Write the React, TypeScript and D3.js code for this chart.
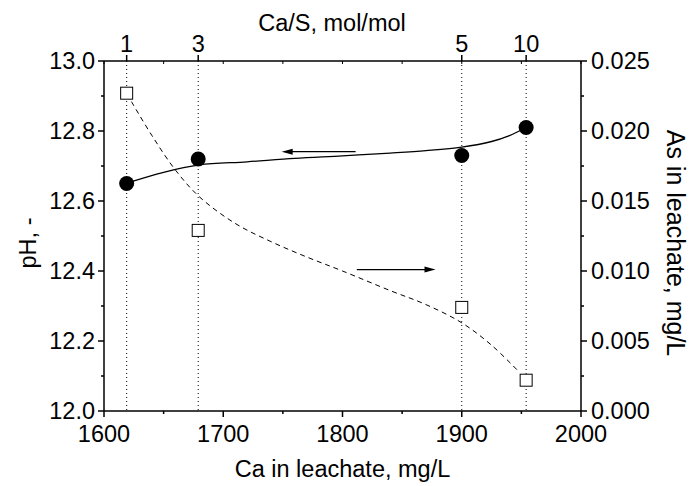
import React from "react";
import * as d3 from "d3";

const caLeachate = [1619, 1679, 1900, 1954];
const pHValues = [12.65, 12.72, 12.73, 12.81];
const asValues = [0.0227, 0.0129, 0.0074, 0.0022];
const caSLabels = ["1", "3", "5", "10"];

const pHFitX = [1619, 1650, 1680, 1720, 1760, 1800, 1840, 1870, 1900, 1925, 1940, 1954];
const pHFitY = [12.651, 12.682, 12.703, 12.712, 12.722, 12.729, 12.737, 12.744, 12.754, 12.77, 12.787, 12.81];

const asFitX = [1623, 1640, 1660, 1680, 1710, 1740, 1770, 1800, 1840, 1870, 1900, 1925, 1948];
const asFitY = [0.0221, 0.0197, 0.0172, 0.0153, 0.0134, 0.0121, 0.011, 0.01, 0.0086, 0.0076, 0.0063, 0.0047, 0.0028];

const xTicks = [1600, 1700, 1800, 1900, 2000];
const xMinorTicks = [1650, 1750, 1850, 1950];
const pHTicks = [12.0, 12.2, 12.4, 12.6, 12.8, 13.0];
const pHMinorTicks = [12.1, 12.3, 12.5, 12.7, 12.9];
const asTicks = [0, 0.005, 0.01, 0.015, 0.02, 0.025];
const asMinorTicks = [0.0025, 0.0075, 0.0125, 0.0175, 0.0225];

// arrows: [x1, x2, y]
const pHArrow = [1811, 1749, 12.741];
const asArrow = [1812, 1878, 0.0101];

const W = 691;
const H = 486;
const L = 104;
const R = 581;
const T = 61;
const B = 411;
const FONT = "'Liberation Sans', Arial, sans-serif";
const FS = 23.5;

export default function App() {
  const x = d3.scaleLinear().domain([1600, 2000]).range([L, R]);
  const yL = d3.scaleLinear().domain([12.0, 13.0]).range([B, T]);
  const yR = d3.scaleLinear().domain([0, 0.025]).range([B, T]);

  const pHLine = d3
    .line<number>()
    .x((_, i) => x(pHFitX[i]))
    .y((d) => yL(d))
    .curve(d3.curveCatmullRom.alpha(0.5));
  const asLine = d3
    .line<number>()
    .x((_, i) => x(asFitX[i]))
    .y((d) => yR(d))
    .curve(d3.curveCatmullRom.alpha(0.5));

  const arrow = (x1: number, x2: number, y: number, key: string) => {
    const dir = Math.sign(x2 - x1);
    const len = 11;
    const hw = 3;
    return (
      <g key={key}>
        <line x1={x1} y1={y} x2={x2 - dir * len + dir * 1} y2={y} stroke="#000" strokeWidth={1.2} />
        <path d={`M${x2},${y} L${x2 - dir * len},${y - hw} L${x2 - dir * len},${y + hw} Z`} fill="#000" />
      </g>
    );
  };

  return (
    <svg width={W} height={H} style={{ position: "absolute", left: 0, top: 0, background: "#fff" }} fontFamily={FONT}>
      <rect x={0} y={0} width={W} height={H} fill="#fff" />
      {/* dotted guides */}
      {caLeachate.map((c, i) => (
        <line key={"g" + i} x1={x(c)} x2={x(c)} y1={T} y2={B} stroke="#000" strokeWidth={1} strokeDasharray="1,3" />
      ))}
      {/* frame */}
      <line x1={L} x2={R} y1={B} y2={B} stroke="#000" strokeWidth={1.5} />
      <line x1={L} x2={R} y1={T} y2={T} stroke="#000" strokeWidth={1.5} />
      <line x1={L} x2={L} y1={T} y2={B} stroke="#000" strokeWidth={1.5} />
      <line x1={R} x2={R} y1={T} y2={B} stroke="#000" strokeWidth={1.5} />

      {/* bottom axis */}
      {xTicks.map((t) => (
        <g key={"xt" + t}>
          <line x1={x(t)} x2={x(t)} y1={B} y2={B + 6} stroke="#000" strokeWidth={1.5} />
          <text x={x(t)} y={B + 31} textAnchor="middle" fontSize={FS}>{t}</text>
        </g>
      ))}
      {xMinorTicks.map((t) => (
        <line key={"xm" + t} x1={x(t)} x2={x(t)} y1={B} y2={B + 3} stroke="#000" strokeWidth={1.5} />
      ))}
      {/* top axis minor marks */}
      {[...xTicks, ...xMinorTicks].map((t) => (
        <line key={"xtt" + t} x1={x(t)} x2={x(t)} y1={T} y2={T + 3} stroke="#000" strokeWidth={1} />
      ))}
      {/* top axis Ca/S ticks */}
      {caLeachate.map((c, i) => (
        <g key={"ct" + i}>
          <line x1={x(c)} x2={x(c)} y1={T} y2={T - 6} stroke="#000" strokeWidth={1.5} />
          <text x={x(c)} y={T - 9} textAnchor="middle" fontSize={FS}>{caSLabels[i]}</text>
        </g>
      ))}

      {/* left axis */}
      {pHTicks.map((t) => (
        <g key={"yl" + t}>
          <line x1={L} x2={L - 6} y1={yL(t)} y2={yL(t)} stroke="#000" strokeWidth={1.5} />
          <text x={L - 9} y={yL(t) + 8.4} textAnchor="end" fontSize={FS}>{t.toFixed(1)}</text>
        </g>
      ))}
      {pHMinorTicks.map((t) => (
        <line key={"ylm" + t} x1={L} x2={L - 3} y1={yL(t)} y2={yL(t)} stroke="#000" strokeWidth={1.5} />
      ))}

      {/* right axis */}
      {asTicks.map((t) => (
        <g key={"yr" + t}>
          <line x1={R} x2={R + 6} y1={yR(t)} y2={yR(t)} stroke="#000" strokeWidth={1.5} />
          <text x={R + 10} y={yR(t) + 8.4} textAnchor="start" fontSize={FS}>{t.toFixed(3)}</text>
        </g>
      ))}
      {asMinorTicks.map((t) => (
        <line key={"yrm" + t} x1={R} x2={R + 3} y1={yR(t)} y2={yR(t)} stroke="#000" strokeWidth={1.5} />
      ))}

      {/* fits */}
      <path d={pHLine(pHFitY) || ""} fill="none" stroke="#000" strokeWidth={1.3} />
      <path d={asLine(asFitY) || ""} fill="none" stroke="#000" strokeWidth={1} strokeDasharray="5,4" />

      {/* arrows */}
      {arrow(x(pHArrow[0]), x(pHArrow[1]), yL(pHArrow[2]), "a1")}
      {arrow(x(asArrow[0]), x(asArrow[1]), yR(asArrow[2]), "a2")}

      {/* markers */}
      {caLeachate.map((c, i) => (
        <circle key={"c" + i} cx={x(c)} cy={yL(pHValues[i])} r={7.5} fill="#000" />
      ))}
      {caLeachate.map((c, i) => (
        <rect key={"s" + i} x={x(c) - 6} y={yR(asValues[i]) - 6} width={12} height={12} fill="#fff" stroke="#000" strokeWidth={1} />
      ))}

      {/* titles */}
      <text x={(L + R) / 2} y={477} textAnchor="middle" fontSize={FS}>Ca in leachate, mg/L</text>
      <text x={332} y={31} textAnchor="middle" fontSize={FS}>Ca/S, mol/mol</text>
      <text transform={`translate(36,243) rotate(-90)`} textAnchor="middle" fontSize={FS}>pH, -</text>
      <text transform={`translate(667,243) rotate(90)`} textAnchor="middle" fontSize={25}>As in leachate, mg/L</text>
    </svg>
  );
}
